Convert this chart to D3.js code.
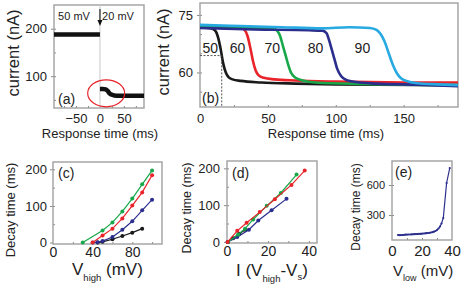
<!DOCTYPE html>
<html>
<head>
<meta charset="utf-8">
<script src="https://cdn.jsdelivr.net/npm/d3@7"></script>
<style>
  body { margin: 0; background: #fff; }
  text { font-family: "Liberation Sans", Arial, sans-serif; fill: #222; }
  .frame { fill: none; stroke: #a0a0a0; stroke-width: 1.4; }
  .axis path { display: none; }
  .axis line { stroke: #888; }
</style>
</head>
<body>
<svg id="fig" width="463" height="285"></svg>
<script>
// ---- (a) current when switching 50 mV -> 20 mV ----
var aBefore = [[-96, 188], [0, 188]];
var aAfter = [[0, 73], [6, 73], [12, 72], [16, 69], [20, 64], [25, 61], [30, 59.5], [40, 59], [92, 59]];
var aXTicks = [-50, 0, 50];
var aYTicks = [100, 200];

// ---- (b) decay traces for V_high = 50..90 mV ----
var bLabels = ["50", "60", "70", "80", "90"];
var bColors = ["#1a1a1a", "#e8232a", "#18a84a", "#2b2e8c", "#27a9e1"];
var bTrace50 = [[0, 71.8], [8, 71.5], [11, 71], [13, 69.5], [15, 66.5], [17, 62.5], [19, 60], [21, 58.8], [24, 58.2], [30, 57.8], [45, 57.4], [70, 57.1], [100, 56.9], [190, 56.7]];
var bTrace60 = [[0, 72.2], [20, 71.8], [30, 71.6], [33, 71], [35, 69.5], [37, 66.5], [39, 63], [41, 60.5], [43, 59.3], [47, 58.6], [55, 58.2], [70, 57.9], [100, 57.6], [150, 57.4], [190, 57.4]];
var bTrace70 = [[0, 72.1], [40, 71.6], [55, 71.3], [57, 70.8], [59, 69.5], [61, 67], [63, 64.5], [65, 62], [67, 60], [70, 58.7], [75, 58], [85, 57.4], [120, 57], [190, 56.7]];
var bTrace80 = [[0, 71.6], [40, 71.2], [80, 71], [90, 70.9], [93, 70.3], [95, 68.5], [97, 66], [99, 63.5], [101, 61], [104, 59], [108, 58], [115, 57.5], [130, 57.1], [160, 56.8], [190, 56.4]];
var bTrace90 = [[0, 72.4], [30, 72.1], [60, 71.8], [90, 71.5], [110, 71.8], [125, 71.6], [130, 71.1], [133, 70], [136, 68], [139, 65], [142, 62], [145, 59.8], [148, 58.5], [152, 57.8], [160, 57.2], [175, 56.9], [190, 56.7]];
var bHalf = [16, 64.4];   // half-decay marker of the 50 mV trace
var bXTicks = [0, 50, 100, 150];
var bYTicks = [60, 75];

// ---- (c) decay time vs V_high ----
var cGreenV = [30, 50, 60, 70, 80, 90, 100], cGreenT = [0, 33, 55, 85, 120, 159, 197];
var cRedV = [40, 50, 60, 70, 80, 90, 100], cRedT = [0, 19, 38, 66, 101, 137, 184];
var cBlueV = [40, 45, 50, 60, 70, 80, 90, 100], cBlueT = [0, 1, 4, 15, 35, 58, 88, 117];
var cBlackV = [45, 50, 60, 70, 80, 90], cBlackT = [0, 2, 9, 18, 27, 38];

// ---- (d) decay time vs I(V_high - V_s) ----
var dRedX = [0.3, 5, 9.6, 16, 23.4, 31.5, 38], dRedT = [0, 30, 52, 81, 116, 155, 194];
var dGreenX = [0.5, 5.4, 8.8, 12.8, 19.4, 26.3, 34], dGreenT = [0, 20, 36, 61, 98, 133, 183];
var dBlueX = [0.3, 5, 10.7, 15.3, 21.8, 29.1], dBlueT = [0, 13, 33, 58, 86, 117];
var dBlackX = [0.5, 3, 6, 9], dBlackT = [0, 10, 22, 33];

// ---- (e) decay time vs V_low ----
var eV = [4, 5, 6, 7, 8, 9, 10, 11, 12, 13, 14, 15, 16, 17, 18, 19, 20, 21, 22, 23, 24, 25, 26, 27, 28, 29, 30, 31, 32, 33, 34.2, 36.4, 38.5];
var eT = [100, 98, 99, 100, 102, 103, 104, 105, 105, 106, 107, 108, 109, 110, 111, 112, 113, 115, 116, 118, 120, 122, 125, 128, 133, 140, 150, 165, 185, 215, 270, 620, 770];

var svg = d3.select("#fig");

function zip(xs, ys) { return xs.map(function (x, i) { return [x, ys[i]]; }); }

/* frame + axes for one panel */
function panel(o) {
  var x = d3.scaleLinear().domain(o.xd).range([o.x0, o.x1]);
  var y = d3.scaleLinear().domain(o.yd).range([o.y1, o.y0]);
  var g = svg.append("g");
  // small inner ticks
  g.append("g").attr("class", "axis").attr("transform", "translate(0," + o.y1 + ")")
    .call(d3.axisTop(x).tickValues(o.xminor).tickSize(2).tickFormat(""));
  g.append("g").attr("class", "axis").attr("transform", "translate(" + o.x0 + ",0)")
    .call(d3.axisRight(y).tickValues(o.yminor).tickSize(2).tickFormat(""));
  var xa = g.append("g").attr("class", "axis").attr("transform", "translate(0," + o.y1 + ")")
    .call(d3.axisBottom(x).tickValues(o.xt).tickSize(0).tickPadding(o.xpad).tickFormat(d3.format("d")));
  xa.selectAll("text").style("font-size", o.xfs + "px").attr("fill", "#222");
  var ya = g.append("g").attr("class", "axis").attr("transform", "translate(" + o.x0 + ",0)")
    .call(d3.axisLeft(y).tickValues(o.yt).tickSize(3).tickPadding(o.ypad).tickFormat(d3.format("d")));
  ya.selectAll("text").style("font-size", o.yfs + "px").attr("fill", "#222");
  svg.append("rect").attr("class", "frame")
    .attr("x", o.x0).attr("y", o.y0).attr("width", o.x1 - o.x0).attr("height", o.y1 - o.y0);
  return { x: x, y: y };
}

function ylabel(txt, x, y, fs) {
  svg.append("text").attr("transform", "translate(" + x + "," + y + ") rotate(-90)")
    .attr("text-anchor", "middle").style("font-size", fs + "px").text(txt);
}

/* ================= (a) ================= */
var pa = panel({ xd: [-96, 92], yd: [33, 250], x0: 54, x1: 144, y0: 5, y1: 108,
  xt: aXTicks, yt: aYTicks, xminor: [-75, -50, -25, 0, 25, 50, 75], yminor: [50, 100, 150, 200],
  xfs: 13, yfs: 13, xpad: 6, ypad: 4 });
svg.append("line").attr("x1", pa.x(0)).attr("x2", pa.x(0)).attr("y1", 5).attr("y2", 108)
  .attr("stroke", "#c8c8c8").attr("stroke-width", 1);
var lineA = d3.line().x(function (d) { return pa.x(d[0]); }).y(function (d) { return pa.y(d[1]); });
svg.append("path").attr("d", lineA(aBefore)).attr("fill", "none").attr("stroke", "#111").attr("stroke-width", 4.5);
svg.append("path").attr("d", lineA.curve(d3.curveMonotoneX)(aAfter)).attr("fill", "none").attr("stroke", "#111").attr("stroke-width", 4.5);
svg.append("ellipse").attr("cx", pa.x(13)).attr("cy", pa.y(64)).attr("rx", 18.5).attr("ry", 13.5)
  .attr("fill", "none").attr("stroke", "#e8232a").attr("stroke-width", 1.2);
svg.append("line").attr("x1", pa.x(0)).attr("x2", pa.x(0)).attr("y1", 9).attr("y2", 21)
  .attr("stroke", "#111").attr("stroke-width", 1.1);
svg.append("path").attr("d", "M" + (pa.x(0) - 2.5) + ",20 L" + (pa.x(0) + 2.5) + ",20 L" + pa.x(0) + ",26 Z").attr("fill", "#111");
svg.append("text").attr("x", 74).attr("y", 20).attr("text-anchor", "middle").style("font-size", "11px").text("50 mV");
svg.append("text").attr("x", 118).attr("y", 20).attr("text-anchor", "middle").style("font-size", "11px").text("20 mV");
svg.append("text").attr("x", 58).attr("y", 104).style("font-size", "14px").text("(a)");
ylabel("current (nA)", 19, 53, 16.5);
svg.append("text").attr("x", 100).attr("y", 138).attr("text-anchor", "middle").style("font-size", "13px").text("Response time (ms)");

/* ================= (b) ================= */
var pb = panel({ xd: [0, 190], yd: [51, 78.1], x0: 200, x1: 458, y0: 3, y1: 107,
  xt: bXTicks, yt: bYTicks, xminor: [25, 50, 75, 100, 125, 150, 175], yminor: [55, 60, 65, 70, 75],
  xfs: 13, yfs: 13, xpad: 7, ypad: 4 });
var lineB = d3.line().curve(d3.curveMonotoneX).x(function (d) { return pb.x(d[0]); }).y(function (d) { return pb.y(d[1]); });
[bTrace50, bTrace60, bTrace70, bTrace80, bTrace90].forEach(function (tr, i) {
  svg.append("path").attr("d", lineB(tr)).attr("fill", "none").attr("stroke", bColors[i]).attr("stroke-width", 2.6);
});
svg.append("path").attr("d", "M" + pb.x(0) + "," + pb.y(bHalf[1]) + " H" + pb.x(bHalf[0]) + " V107")
  .attr("fill", "none").attr("stroke", "#444").attr("stroke-width", 0.9).attr("stroke-dasharray", "2,1.5");
var bLabelX = [7.5, 27.6, 53.3, 85, 119.6];
bLabels.forEach(function (l, i) {
  svg.append("text").attr("x", pb.x(bLabelX[i])).attr("y", pb.y(65.2)).attr("text-anchor", "middle")
    .style("font-size", "14px").text(l);
});
svg.append("text").attr("x", 202).attr("y", 103).style("font-size", "14px").text("(b)");
ylabel("current (nA)", 169, 52, 16.5);
svg.append("text").attr("x", 326).attr("y", 138).attr("text-anchor", "middle").style("font-size", "13px").text("Response time (ms)");

/* scatter-with-line helper */
function series(p, pts, col, r) {
  var ln = d3.line().x(function (d) { return p.x(d[0]); }).y(function (d) { return p.y(d[1]); });
  svg.append("path").attr("d", ln(pts)).attr("fill", "none").attr("stroke", col).attr("stroke-width", 1.2);
  svg.append("g").selectAll("circle").data(pts).join("circle")
    .attr("cx", function (d) { return p.x(d[0]); }).attr("cy", function (d) { return p.y(d[1]); })
    .attr("r", r).attr("fill", col);
}

/* ================= (c) ================= */
var pc = panel({ xd: [0, 110], yd: [-4, 220], x0: 53, x1: 162, y0: 162, y1: 244,
  xt: [0, 40, 80], yt: [0, 100, 200], xminor: [20, 40, 60, 80, 100], yminor: [50, 100, 150, 200],
  xfs: 14, yfs: 13, xpad: 3, ypad: 3 });
series(pc, zip(cBlackV, cBlackT), "#1a1a1a", 2);
series(pc, zip(cBlueV, cBlueT), "#2b2e8c", 2);
series(pc, zip(cRedV, cRedT), "#e8232a", 2);
series(pc, zip(cGreenV, cGreenT), "#18a84a", 2);
svg.append("text").attr("x", 58).attr("y", 178).style("font-size", "14px").text("(c)");
ylabel("Decay time (ms)", 15, 210, 13);
var tc = svg.append("text").attr("x", 72).attr("y", 275).style("font-size", "17px");
tc.append("tspan").text("V");
tc.append("tspan").attr("dy", 6).style("font-size", "9.5px").text("high");
tc.append("tspan").attr("dy", -6).text(" (mV)");

/* ================= (d) ================= */
var pd = panel({ xd: [0, 44], yd: [-3, 220], x0: 227, x1: 317, y0: 161, y1: 243,
  xt: [0, 20, 40], yt: [0, 100, 200], xminor: [10, 20, 30, 40], yminor: [50, 100, 150, 200],
  xfs: 14, yfs: 13, xpad: 3, ypad: 4 });
series(pd, zip(dBlackX, dBlackT), "#1a1a1a", 2);
series(pd, zip(dBlueX, dBlueT), "#2b2e8c", 2);
series(pd, zip(dGreenX, dGreenT), "#18a84a", 2);
series(pd, zip(dRedX, dRedT), "#e8232a", 2);
svg.append("text").attr("x", 232).attr("y", 178).style("font-size", "14px").text("(d)");
ylabel("Decay time (ms)", 191, 208, 12.5);
var td = svg.append("text").attr("x", 236).attr("y", 276).style("font-size", "17px");
td.append("tspan").text("I (V");
td.append("tspan").attr("dy", 6).style("font-size", "9.5px").text("high");
td.append("tspan").attr("dy", -6).text("-V");
td.append("tspan").attr("dy", 4).style("font-size", "9.5px").text("s");
td.append("tspan").attr("dy", -4).text(")");

/* ================= (e) ================= */
var pe = panel({ xd: [0, 40], yd: [50, 840], x0: 392, x1: 452, y0: 161, y1: 240,
  xt: [0, 20, 40], yt: [300, 600], xminor: [10, 20, 30], yminor: [300, 600],
  xfs: 15, yfs: 11, xpad: 5, ypad: 4 });
series(pe, zip(eV, eT), "#2b2e8c", 1.1);
svg.append("text").attr("x", 395).attr("y", 177).style("font-size", "14px").text("(e)");
ylabel("Decay time (ms)", 360, 207, 12);
var te = svg.append("text").attr("x", 393).attr("y", 276).style("font-size", "15px");
te.append("tspan").text("V");
te.append("tspan").attr("dy", 5).style("font-size", "9px").text("low");
te.append("tspan").attr("dy", -5).text(" (mV)");
</script>
</body>
</html>
